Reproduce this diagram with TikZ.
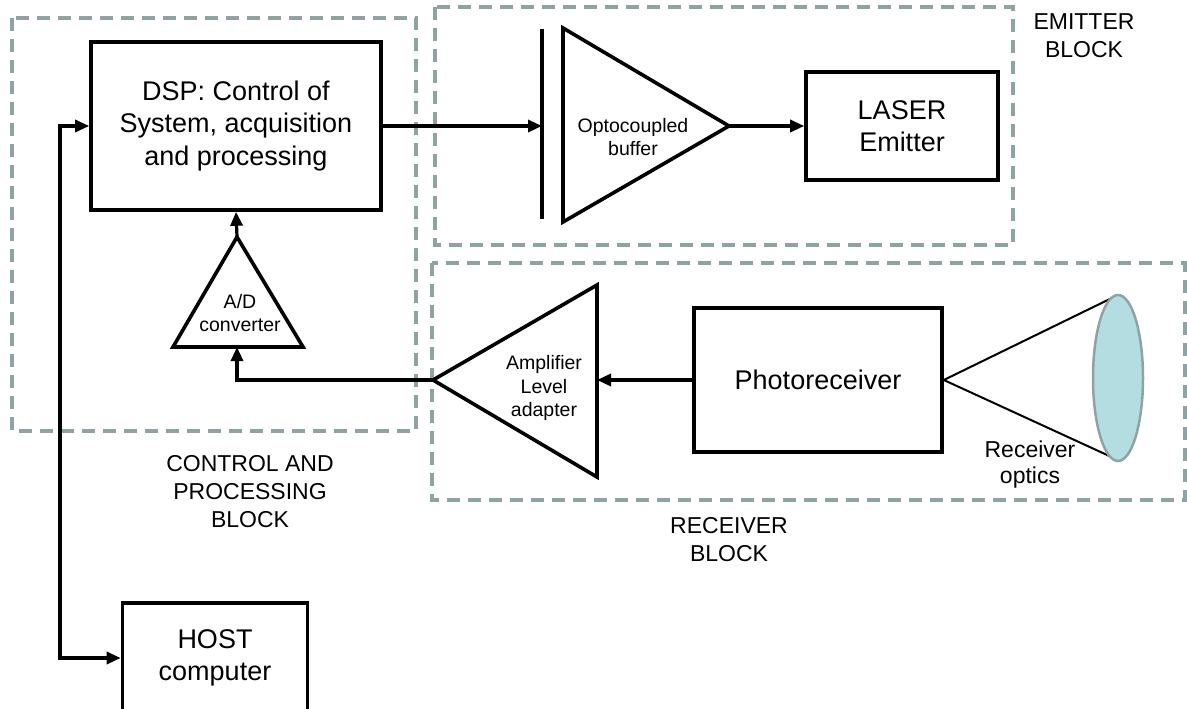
\documentclass[tikz,border=0pt]{standalone}
\usepackage{fontspec}
\setmainfont{Liberation Sans}
\usetikzlibrary{positioning,calc,arrows.meta}
\definecolor{zonegray}{RGB}{143,163,163}
\definecolor{lensblue}{RGB}{180,221,225}

\begin{document}
\begin{tikzpicture}[x=1pt, y=-1pt,
    zone/.style={draw=zonegray, line width=3.5pt, dash pattern=on 13pt off 8pt},
    box/.style={draw, line width=3.6pt, align=center, inner sep=0pt,
                font=\fontsize{27}{32.5}\selectfont},
    tri/.style={draw, line width=3.6pt, line join=miter},
    small/.style={align=center, font=\fontsize{19.5}{23.5}\selectfont},
    zonelabel/.style={align=center, font=\fontsize{23}{28}\selectfont},
    wire/.style={line width=3.2pt, -{Triangle[length=14pt,width=12pt]}},
    ray/.style={line width=2pt},
    lens/.style={draw=zonegray, line width=2.5pt, fill=lensblue}
]

\useasboundingbox (0,0) rectangle (1187,709);

% dashed blocks
\draw[zone] (12,18) rectangle (416,431);
\draw[zone] (435,7) rectangle (1013,245);
\draw[zone] (432,263) rectangle (1185,500);

% boxes
\node[box, minimum width=290pt, minimum height=168pt] (dsp) at (236,126)
    {DSP: Control of\\System, acquisition\\and processing};
\node[box, minimum width=192pt, minimum height=108pt] (laser) at (902,126)
    {LASER\\Emitter};
\node[box, minimum width=248pt, minimum height=144pt] (photo) at (818,380)
    {Photoreceiver};
\node[box, minimum width=185pt, minimum height=110pt] (host) at (215,658)
    {HOST\\computer};

% optocoupled buffer
\draw[tri] (542,29) -- (542,219);
\coordinate (optoin) at (542,126);
\draw[tri] (563,28) -- (729,126) -- (563,222) -- cycle;
\coordinate (optoout) at (729,126);
\node[small] (optotxt) at (633,137) {Optocoupled\\buffer};

% A/D converter
\draw[tri] (237,237) -- (303,347) -- (173,347) -- cycle;
\coordinate (adout) at (237,237);
\coordinate (adin) at (237,347);
\node[small] (adtxt) at (240,313) {A/D\\converter};

% amplifier
\draw[tri] (433,380) -- (597,285) -- (597,477) -- cycle;
\coordinate (ampin) at (597,380);
\coordinate (ampout) at (433,380);
\node[small] (amptxt) at (544,388) {Amplifier\\Level\\adapter};

% receiver optics
\coordinate (lenstop) at (1118,295);
\coordinate (lensbot) at (1118,460);
\draw[ray] (photo.east) -- (lenstop);
\draw[ray] (photo.east) -- (lensbot);
\draw[lens] (1118,378) ellipse [x radius=25, y radius=83];
\node[zonelabel, font=\fontsize{23}{26}\selectfont] (optlbl) at (1030,465) {Receiver\\optics};

% signal path
\draw[wire] (dsp.east) -- (optoin);
\draw[wire] (optoout) -- (laser.west);
\draw[wire] (photo.west) -- (ampin);
\draw[wire] (ampout) -| (adin);
\draw[wire] (adout) -- (dsp.south);
\coordinate (bus) at (60,400);
\draw[wire, {Triangle[length=14pt,width=12pt]}-{Triangle[length=14pt,width=12pt]}]
    (dsp.west) -| (bus) |- (host.west);

% block names
\node[zonelabel] (emitlbl) at (1084,36) {EMITTER\\BLOCK};
\node[zonelabel] (ctrllbl) at (250,492) {CONTROL AND\\PROCESSING\\BLOCK};
\node[zonelabel] (rcvlbl) at (729,540) {RECEIVER\\BLOCK};

\end{tikzpicture}
\end{document}
